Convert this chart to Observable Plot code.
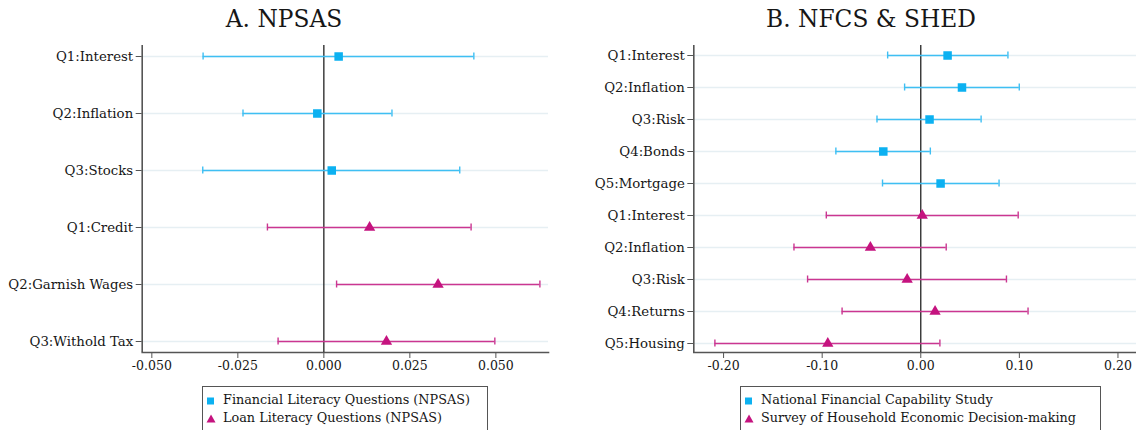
<!DOCTYPE html>
<html>
<head>
<meta charset="utf-8">
<script src="https://cdn.jsdelivr.net/npm/d3@7"></script>
<script src="https://cdn.jsdelivr.net/npm/@observablehq/plot@0.6"></script>
<style>
  body { margin: 0; background: #fff; }
  #fig { position: relative; width: 1136px; height: 430px; overflow: hidden; background: #fff;
         font-family: "DejaVu Serif", serif; color: #161616; }
  .title { position: absolute; top: 4px; line-height: 30px; text-align: center; font-size: 23.3px; }
  .panel { position: absolute; top: 36px; }
  .legend { position: absolute; top: 386px; height: 70px; border: 1px solid #555; box-sizing: border-box;
            padding-top: 4px; font-size: 12.8px; }
  .legend .row { height: 18px; position: relative; }
  .legend svg { position: absolute; left: 3px; top: 4.5px; }
  .legend span { position: absolute; left: 20px; top: 0; line-height: 18px; white-space: nowrap; }
</style>
</head>
<body>
<div id="fig">
  <div class="title" style="left:0;width:568px">A. NPSAS</div>
  <div class="title" style="left:560px;width:622px">B. NFCS &amp; SHED</div>
  <div class="panel" id="panelA" style="left:0"></div>
  <div class="panel" id="panelB" style="left:560px"></div>
  <div class="legend" id="legendA" style="left:202px;width:286px"></div>
  <div class="legend" id="legendB" style="left:740px;width:361px"></div>
</div>
<script>
// Panel A: NPSAS coefficient estimates with 95% confidence intervals
const npsasFinQ   = ["Q1:Interest", "Q2:Inflation", "Q3:Stocks"];
const npsasFinEst = [0.0043, -0.0019, 0.0023];
const npsasFinLo  = [-0.0351, -0.0235, -0.0352];
const npsasFinHi  = [0.0436, 0.0198, 0.0395];

const npsasLoanQ   = ["Q1:Credit", "Q2:Garnish Wages", "Q3:Withold Tax"];
const npsasLoanEst = [0.0133, 0.0332, 0.0182];
const npsasLoanLo  = [-0.0164, 0.0037, -0.0133];
const npsasLoanHi  = [0.0428, 0.0628, 0.0497];

// Panel B: NFCS and SHED
const nfcsQ   = ["Q1:Interest", "Q2:Inflation", "Q3:Risk", "Q4:Bonds", "Q5:Mortgage"];
const nfcsEst = [0.0272, 0.0418, 0.0089, -0.0380, 0.0201];
const nfcsLo  = [-0.0336, -0.0164, -0.0444, -0.0861, -0.0388];
const nfcsHi  = [0.0884, 0.0999, 0.0612, 0.0097, 0.0794];

const shedQ   = ["Q1:Interest", "Q2:Inflation", "Q3:Risk", "Q4:Returns", "Q5:Housing"];
const shedEst = [0.0015, -0.0511, -0.0138, 0.0145, -0.0943];
const shedLo  = [-0.0958, -0.1286, -0.1148, -0.0798, -0.2088];
const shedHi  = [0.0988, 0.0258, 0.0869, 0.1088, 0.0194];

const npsasTicks = [-0.05, -0.025, 0, 0.025, 0.05];
const surveyTicks = [-0.2, -0.1, 0, 0.1, 0.2];

const legendA = ["Financial Literacy Questions (NPSAS)", "Loan Literacy Questions (NPSAS)"];
const legendB = ["National Financial Capability Study", "Survey of Household Economic Decision-making"];

const blue = "#0cb1f1", blueBar = "#3fbff3";
const magenta = "#c5137f", magentaBar = "#cb3691";

function rows(group, qs, est, lo, hi) {
  return qs.map((q, i) => ({key: group + "|" + q, label: q, est: est[i], lo: lo[i], hi: hi[i]}));
}

function series(data, barColor, dotColor, symbol, r) {
  return [
    Plot.ruleY(data, {y: "key", x1: "lo", x2: "hi", stroke: barColor, strokeWidth: 1.6}),
    Plot.ruleX(data, {x: "lo", y1: "key", y2: "key", insetTop: -3.5, insetBottom: -3.5, stroke: barColor, strokeWidth: 1.4}),
    Plot.ruleX(data, {x: "hi", y1: "key", y2: "key", insetTop: -3.5, insetBottom: -3.5, stroke: barColor, strokeWidth: 1.4}),
    Plot.dot(data, {x: "est", y: "key", symbol, r, fill: dotColor, stroke: "none"})
  ];
}

function panel({top, bottom, width, marginLeft, marginRight, xDomain, ticks, digits}) {
  const all = top.concat(bottom);
  const labelOf = new Map(all.map(d => [d.key, d.label]));
  const fmt = d => d.toFixed(digits);
  return Plot.plot({
    width, height: 345, marginLeft, marginRight, marginTop: 9, marginBottom: 29,
    style: {fontFamily: "DejaVu Serif", fontSize: "13px", color: "#161616", background: "transparent", overflow: "visible"},
    x: {domain: xDomain, label: null},
    y: {type: "point", domain: all.map(d => d.key), range: [18.3, 307], padding: 0, label: null},
    marks: [
      Plot.gridY({stroke: "#e6eff3", strokeOpacity: 1, strokeWidth: 1.5}),
      Plot.ruleX([xDomain[0]], {stroke: "#555", strokeWidth: 1.6}),
      Plot.frame({anchor: "bottom", stroke: "#555", strokeWidth: 1.6}),
      Plot.ruleX([0], {stroke: "#222", strokeWidth: 1.3}),
      ...series(top, blueBar, blue, "square", 4.8),
      ...series(bottom, magentaBar, magenta, "triangle", 4.2),
      Plot.axisX({ticks, tickFormat: fmt, tickSize: 6, tickPadding: 3, fontSize: 12.5, stroke: "#555", label: null}),
      Plot.axisY({tickSize: 6, tickPadding: 3, fontSize: 13.3, tickFormat: k => labelOf.get(k), stroke: "#555", label: null})
    ]
  });
}

document.getElementById("panelA").append(panel({
  top: rows("fin", npsasFinQ, npsasFinEst, npsasFinLo, npsasFinHi),
  bottom: rows("loan", npsasLoanQ, npsasLoanEst, npsasLoanLo, npsasLoanHi),
  width: 560, marginLeft: 141.7, marginRight: 12,
  xDomain: [-0.0528, 0.0653], ticks: npsasTicks, digits: 3
}));

document.getElementById("panelB").append(panel({
  top: rows("nfcs", nfcsQ, nfcsEst, nfcsLo, nfcsHi),
  bottom: rows("shed", shedQ, shedEst, shedLo, shedHi),
  width: 576, marginLeft: 133.3, marginRight: 0,
  xDomain: [-0.2302, 0.2188], ticks: surveyTicks, digits: 2
}));

function legend(el, labels) {
  const marks = [
    `<svg width="11" height="10"><rect x="1" y="1.5" width="7" height="7" fill="${blue}"/></svg>`,
    `<svg width="11" height="10"><path d="M5 0.5 L9.5 8.5 L0.5 8.5 Z" fill="${magenta}"/></svg>`
  ];
  labels.forEach((t, i) => {
    const row = document.createElement("div");
    row.className = "row";
    row.innerHTML = marks[i] + `<span>${t}</span>`;
    el.append(row);
  });
}
legend(document.getElementById("legendA"), legendA);
legend(document.getElementById("legendB"), legendB);
</script>
</body>
</html>
